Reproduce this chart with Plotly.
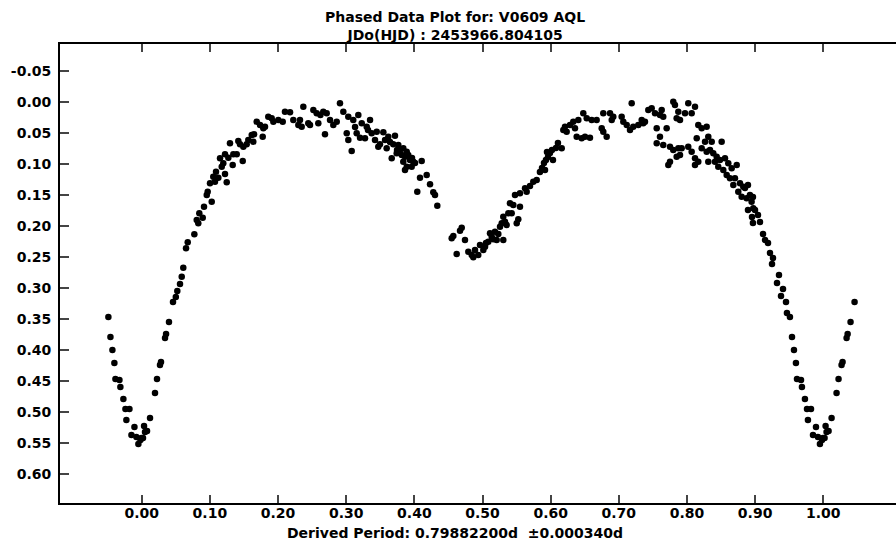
import plotly.graph_objects as go

# Phased light curve of V0609 AQL: phase and differential magnitude
phase = [
    0.0019, 0.0034, 0.0048, 0.0078, 0.0122, 0.0195, 0.0224, 0.0268, 0.0283, 0.0342,
    0.0357, 0.0400, 0.0459, 0.0500, 0.0522, 0.0562, 0.0587, 0.0610, 0.0650, 0.0675,
    0.0772, 0.0807, 0.0830, 0.0845, 0.0895, 0.0914, 0.0954, 0.0968, 0.1002, 0.1027,
    0.1050, 0.1075, 0.1090, 0.1124, 0.1149, 0.1174, 0.1197, 0.1222, 0.1222, 0.1247,
    0.1271, 0.1295, 0.1335, 0.1344, 0.1394, 0.1417, 0.1442, 0.1482, 0.1491, 0.1540,
    0.1564, 0.1614, 0.1637, 0.1648, 0.1687, 0.1736, 0.1775, 0.1784, 0.1809, 0.1857,
    0.1907, 0.1931, 0.2004, 0.2069, 0.2102, 0.2176, 0.2224, 0.2298, 0.2322, 0.2347,
    0.2371, 0.2444, 0.2469, 0.2518, 0.2567, 0.2591, 0.2622, 0.2664, 0.2689, 0.2714,
    0.2763, 0.2811, 0.2861, 0.2909, 0.2958, 0.3008, 0.3031, 0.3031, 0.3081, 0.3104,
    0.3130, 0.3154, 0.3178, 0.3203, 0.3228, 0.3276, 0.3301, 0.3320, 0.3350, 0.3374,
    0.3423, 0.3448, 0.3471, 0.3496, 0.3545, 0.3570, 0.3594, 0.3618, 0.3643, 0.3668,
    0.3691, 0.3716, 0.3741, 0.3746, 0.3765, 0.3790, 0.3815, 0.3838, 0.3838, 0.3863,
    0.3863, 0.3888, 0.3888, 0.3911, 0.3936, 0.3961, 0.3966, 0.3985, 0.4010, 0.4043,
    0.4083, 0.4108, 0.4181, 0.4230, 0.4278, 0.4303, 0.4337, 0.4548, 0.4572, 0.4621,
    0.4670, 0.4695, 0.4743, 0.4792, 0.4842, 0.4865, 0.4890, 0.4938, 0.4963, 0.5012,
    0.5037, 0.5051, 0.5085, 0.5110, 0.5135, 0.5158, 0.5183, 0.5208, 0.5232, 0.5257,
    0.5282, 0.5305, 0.5305, 0.5330, 0.5355, 0.5379, 0.5403, 0.5428, 0.5452, 0.5477,
    0.5502, 0.5525, 0.5550, 0.5550, 0.5624, 0.5648, 0.5697, 0.5745, 0.5795, 0.5843,
    0.5873, 0.5902, 0.5917, 0.5931, 0.5946, 0.5961, 0.5990, 0.6019, 0.6034, 0.6078,
    0.6107, 0.6162, 0.6186, 0.6210, 0.6235, 0.6284, 0.6332, 0.6357, 0.6382, 0.6406,
    0.6455, 0.6479, 0.6504, 0.6529, 0.6577, 0.6602, 0.6675, 0.6749, 0.6772, 0.6772,
    0.6822, 0.6871, 0.6896, 0.6919, 0.7042, 0.7066, 0.7116, 0.7164, 0.7189, 0.7212,
    0.7286, 0.7336, 0.7359, 0.7384, 0.7433, 0.7482, 0.7531, 0.7556, 0.7556, 0.7604,
    0.7604, 0.7629, 0.7652, 0.7652, 0.7702, 0.7726, 0.7751, 0.7751, 0.7799, 0.7799,
    0.7824, 0.7849, 0.7849, 0.7873, 0.7873, 0.7898, 0.7898, 0.7922, 0.7971, 0.8019,
    0.8019, 0.8069, 0.8069, 0.8118, 0.8118, 0.8118, 0.8143, 0.8166, 0.8166, 0.8216,
    0.8216, 0.8265, 0.8289, 0.8289, 0.8313, 0.8313, 0.8338, 0.8363, 0.8386, 0.8411,
    0.8436, 0.8459, 0.8484, 0.8509, 0.8533, 0.8558, 0.8583, 0.8606, 0.8631, 0.8656,
    0.8680, 0.8704, 0.8730, 0.8753, 0.8778, 0.8802, 0.8826, 0.8851, 0.8875, 0.8895,
    0.8895, 0.8924, 0.8948, 0.8954, 0.8968, 0.8968, 0.8973, 0.8998, 0.9042, 0.9072,
    0.9116, 0.9145, 0.9189, 0.9218, 0.9248, 0.9262, 0.9321, 0.9350, 0.9380, 0.9409,
    0.9453, 0.9467, 0.9511, 0.9541, 0.9570, 0.9599, 0.9614, 0.9673, 0.9687, 0.9731,
    0.9761, 0.9775, 0.9820, 0.9849, 0.9893, 0.9922, 0.9951, 0.9981, 0.9995,
]
magnitude = [
    0.5419, 0.5226, 0.5323, 0.5306, 0.5097, 0.4694, 0.4468, 0.4242, 0.4194, 0.3806,
    0.3742, 0.3548, 0.3226, 0.3145, 0.3048, 0.2935, 0.2818, 0.2673, 0.2360, 0.2263,
    0.2134, 0.1903, 0.1956, 0.1795, 0.1866, 0.1689, 0.1500, 0.1447, 0.1311, 0.1608,
    0.1205, 0.1285, 0.1124, 0.1221, 0.0908, 0.1044, 0.0989, 0.1161, 0.0844, 0.1295,
    0.0898, 0.0666, 0.1016, 0.0844, 0.0844, 0.0629, 0.0682, 0.0952, 0.0721, 0.0682,
    0.0613, 0.0532, 0.0640, 0.0521, 0.0318, 0.0371, 0.0560, 0.0424, 0.0398, 0.0237,
    0.0263, 0.0318, 0.0290, 0.0318, 0.0156, 0.0166, 0.0290, 0.0371, 0.0290, 0.0398,
    0.0076, 0.0344, 0.0371, 0.0129, 0.0182, 0.0344, 0.0210, 0.0156, 0.0521, 0.0182,
    0.0290, 0.0371, 0.0318, 0.0021, 0.0156, 0.0505, 0.0237, 0.0613, 0.0790, 0.0290,
    0.0403, 0.0505, 0.0210, 0.0576, 0.0344, 0.0585, 0.0398, 0.0452, 0.0290, 0.0505,
    0.0613, 0.0479, 0.0721, 0.0682, 0.0489, 0.0613, 0.0747, 0.0560, 0.0645, 0.0908,
    0.0682, 0.0544, 0.0827, 0.0774, 0.0694, 0.0774, 0.0855, 0.0747, 0.0963, 0.0882,
    0.1097, 0.0802, 0.1044, 0.0855, 0.0935, 0.1044, 0.0903, 0.0963, 0.0984, 0.1447,
    0.1221, 0.0952, 0.1177, 0.1327, 0.1456, 0.1500, 0.1673, 0.2198, 0.2161, 0.2452,
    0.2076, 0.2027, 0.2226, 0.2415, 0.2468, 0.2505, 0.2387, 0.2468, 0.2306, 0.2387,
    0.2334, 0.2274, 0.2253, 0.2118, 0.2173, 0.2215, 0.2092, 0.2226, 0.2129, 0.2011,
    0.1956, 0.2226, 0.1850, 0.1931, 0.1984, 0.1795, 0.1634, 0.1795, 0.1661, 0.1500,
    0.1956, 0.1892, 0.1689, 0.1473, 0.1392, 0.1447, 0.1355, 0.1285, 0.1258, 0.1129,
    0.1065, 0.0984, 0.1097, 0.0935, 0.0806, 0.0887, 0.0823, 0.0774, 0.0935, 0.0742,
    0.0661, 0.0747, 0.0452, 0.0398, 0.0479, 0.0371, 0.0318, 0.0424, 0.0560, 0.0290,
    0.0585, 0.0182, 0.0560, 0.0263, 0.0576, 0.0290, 0.0290, 0.0424, 0.0479, 0.0182,
    0.0560, 0.0182, 0.0290, 0.0237, 0.0237, 0.0318, 0.0371, 0.0452, 0.0021, 0.0398,
    0.0371, 0.0290, 0.0344, 0.0318, 0.0129, 0.0102, 0.0182, 0.0424, 0.0666, 0.0210,
    0.0560, 0.0129, 0.0237, 0.0694, 0.0424, 0.1016, 0.0721, 0.0963, -0.0005, 0.0774,
    0.0048, 0.0263, 0.0882, 0.0156, 0.0747, 0.0290, 0.0855, 0.0747, 0.0182, 0.0021,
    0.0721, 0.0182, 0.0802, 0.0076, 0.0908, 0.1016, 0.0585, 0.0371, 0.0963, 0.0424,
    0.0747, 0.0640, 0.0398, 0.0802, 0.0560, 0.0963, 0.0774, 0.0640, 0.0827, 0.0963,
    0.0882, 0.1044, 0.0935, 0.0640, 0.1097, 0.0908, 0.1177, 0.0989, 0.1231, 0.1069,
    0.1339, 0.1231, 0.1016, 0.1447, 0.1311, 0.1527, 0.1366, 0.1387, 0.1553, 0.1339,
    0.1742, 0.1500, 0.1608, 0.1855, 0.1532, 0.1952, 0.1714, 0.1742, 0.1823, 0.1935,
    0.2129, 0.2226, 0.2274, 0.2435, 0.2613, 0.2516, 0.2919, 0.2790, 0.3129, 0.3016,
    0.3226, 0.3403, 0.3468, 0.3790, 0.4000, 0.4210, 0.4468, 0.4484, 0.4597, 0.4790,
    0.4952, 0.5129, 0.4952, 0.5371, 0.5242, 0.5403, 0.5516, 0.5452, 0.5419,
]

# Phase plots repeat the ends of the cycle on either side of 0..1
WRAP = 0.05
plot_phase = list(phase)
plot_mag = list(magnitude)
for p, m in zip(phase, magnitude):
    if p > 1 - WRAP:
        plot_phase.append(p - 1)
        plot_mag.append(m)
    if p < WRAP:
        plot_phase.append(p + 1)
        plot_mag.append(m)

x_ticks = [0.0, 0.1, 0.2, 0.3, 0.4, 0.5, 0.6, 0.7, 0.8, 0.9, 1.0]
x_tick_labels = ["0.00", "0.10", "0.20", "0.30", "0.40", "0.50",
                 "0.60", "0.70", "0.80", "0.90", "1.00"]
y_ticks = [-0.05, 0.0, 0.05, 0.10, 0.15, 0.20, 0.25, 0.30,
           0.35, 0.40, 0.45, 0.50, 0.55, 0.60]
y_tick_labels = ["-0.05", "0.00", "0.05", "0.10", "0.15", "0.20", "0.25",
                 "0.30", "0.35", "0.40", "0.45", "0.50", "0.55", "0.60"]

title_lines = ["Phased Data Plot for: V0609 AQL", "JDo(HJD) : 2453966.804105"]
x_caption = "Derived Period: 0.79882200d \u00a0\u00b10.000340d"

FONT = "DejaVu Sans"
text_font = dict(family=FONT, size=14, color="black", weight="bold")

fig = go.Figure()
fig.add_trace(go.Scatter(
    x=plot_phase, y=plot_mag, mode="markers",
    marker=dict(color="black", size=6.5, line=dict(width=0)),
    showlegend=False, hoverinfo="x+y",
))

X_RANGE = [-0.1199, 1.1067]
Y_RANGE = [0.6468, -0.0935]
CENTER = (455 - 60) / 836  # horizontal centre of the heading and caption

fig.update_layout(
    width=896, height=544,
    margin=dict(l=60, r=0, t=44, b=41),
    paper_bgcolor="white", plot_bgcolor="white",
    xaxis=dict(
        range=X_RANGE, tickvals=x_ticks, ticktext=x_tick_labels,
        showgrid=False, zeroline=False,
        showline=True, linecolor="black", linewidth=2, mirror="ticks",
        ticks="inside", ticklen=8, tickwidth=1.5, tickcolor="#444",
        tickfont=text_font, ticklabelstandoff=-4,
    ),
    yaxis=dict(
        range=Y_RANGE, tickvals=y_ticks, ticktext=y_tick_labels,
        showgrid=False, zeroline=False,
        showline=True, linecolor="black", linewidth=2, mirror=False,
        ticks="inside", ticklen=9, tickwidth=1.5, tickcolor="#444",
        tickfont=text_font, ticklabelstandoff=4,
    ),
    yaxis2=dict(
        range=Y_RANGE, tickvals=y_ticks, overlaying="y", side="right",
        anchor="x", showgrid=False, zeroline=False, showline=False,
        showticklabels=False, ticks="inside", ticklen=3, tickwidth=1.5,
        tickcolor="#444",
    ),
    annotations=[
        dict(
            text="<br>".join(title_lines), xref="paper", yref="paper",
            x=CENTER, y=1, xanchor="center", yanchor="bottom",
            yshift=-1.5, showarrow=False, font=text_font,
        ),
        dict(
            text=x_caption, xref="paper", yref="paper",
            x=CENTER, y=0, xanchor="center", yanchor="top",
            yshift=-20, showarrow=False, font=text_font,
        ),
    ],
)

fig.write_html("out.html")
